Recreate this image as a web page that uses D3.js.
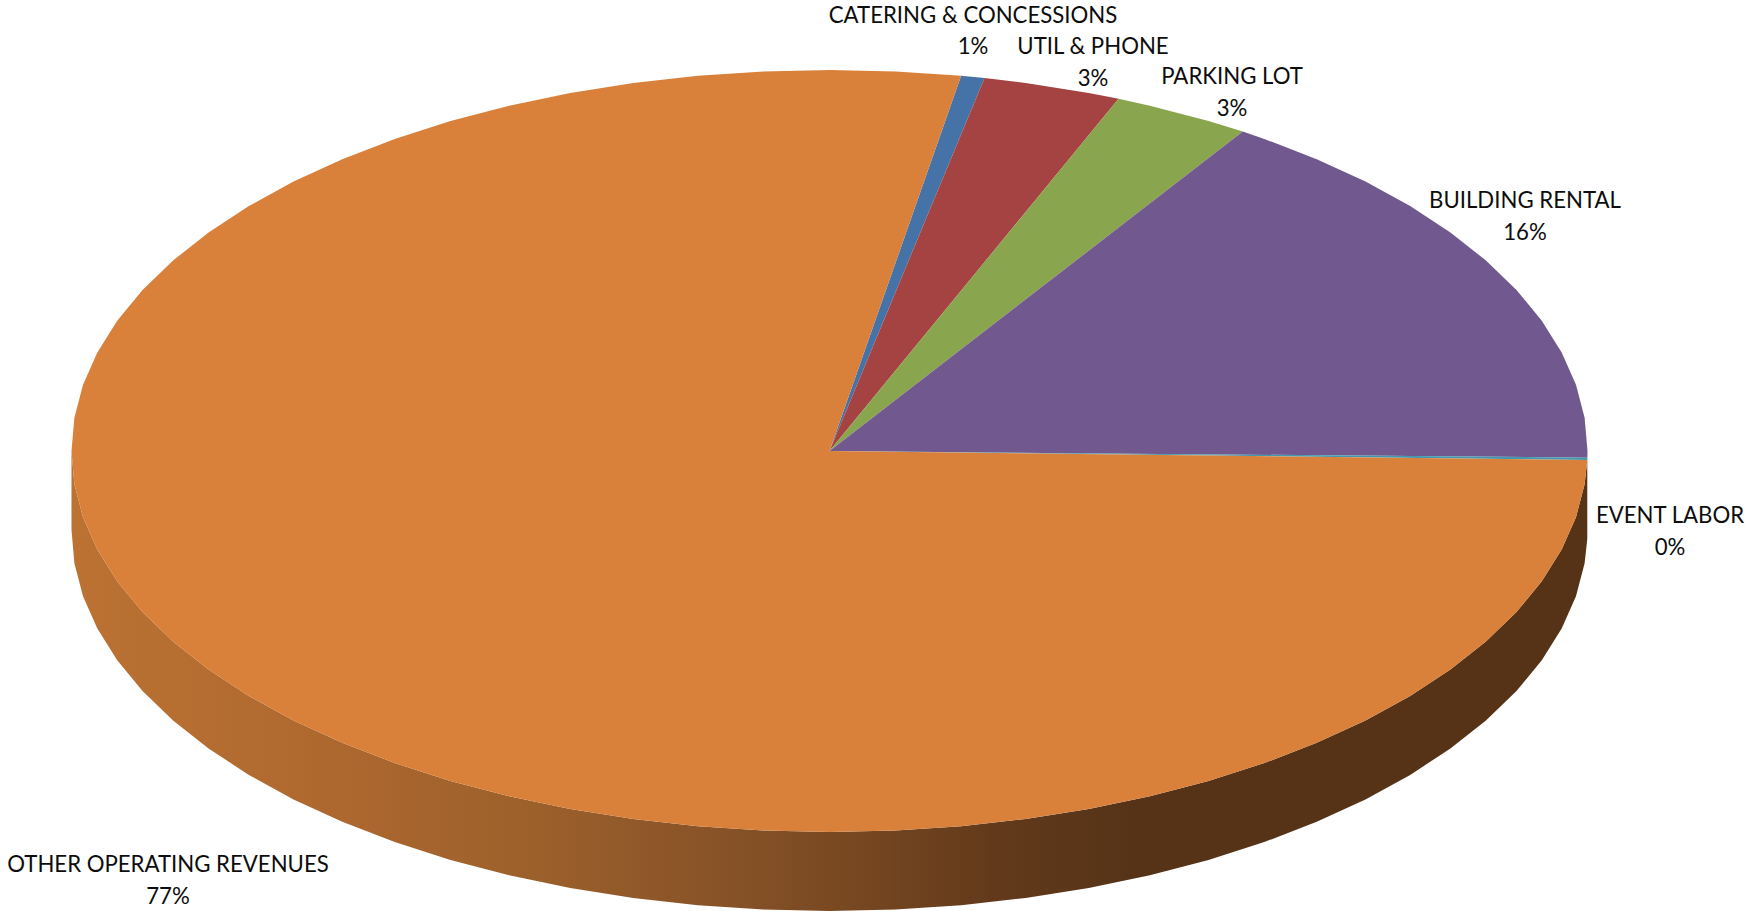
<!DOCTYPE html>
<html>
<head>
<meta charset="utf-8">
<style>
  html, body { margin: 0; padding: 0; background: #fff; }
  svg { display: block; }
  text { font-family: Lato, "Open Sans", sans-serif; font-size: 22.2px; fill: #0d0d0d; text-anchor: middle; }
</style>
<script src="https://cdn.jsdelivr.net/npm/d3@7/dist/d3.min.js"></script>
</head>
<body>
<script>
// Revenue sources, clockwise from the first slice after the large wedge.
const categories = ["CATERING & CONCESSIONS", "UTIL & PHONE", "PARKING LOT", "BUILDING RENTAL", "EVENT LABOR", "OTHER OPERATING REVENUES"];
const shares = [0.5, 2.95, 2.95, 16.1, 0.1, 77.4];
const sliceColors = ["#4572a7", "#a54343", "#89a54e", "#71588f", "#4198af", "#d9803b"];

// Page layout of the tilted disc and its labels.
const width = 1746, height = 911;
const cx = 829.5, cy = 451, rx = 758, ry = 381, depth = 79;
const firstAngle = 10 * Math.PI / 180;
const facet = 5 * Math.PI / 180;   // the rim is drawn as straight 5 degree segments
const labelCenters = [[973, 22.5], [1093, 54], [1232, 84], [1525, 208], [1670, 523], [168, 872]];
const lineGap = 31.5;

// Rim wall shading, left to right across the disc.
const wallStops = [[0, "#bb7233"], [0.15, "#b0692f"], [0.305, "#9c602b"], [0.415, "#8a5428"], [0.48, "#7e4c24"], [0.525, "#754620"], [0.61, "#623a1b"], [0.7, "#563317"], [1, "#563317"]];

const svg = d3.select("body").append("svg").attr("width", width).attr("height", height);

const arcs = d3.pie().sort(null).value(d => d)
  .startAngle(firstAngle).endAngle(firstAngle + 2 * Math.PI)(shares);

// Projected point on the rim for a pie angle (clockwise from 12 o'clock).
const rimX = a => cx + rx * Math.sin(a);
const rimY = a => cy - ry * Math.cos(a);

// Angles along a rim span: both ends plus each facet corner between them.
const rimAngles = (from, to) => {
  const first = Math.ceil(from / facet + 1e-6), last = Math.floor(to / facet - 1e-6);
  return [from, ...d3.range(first, last + 1).map(k => k * facet), to];
};

// The rim wall: only the front half of the largest slice is visible.
const large = arcs[arcs.length - 1];
const wallAngles = rimAngles(large.startAngle, 1.5 * Math.PI);

svg.append("defs").append("linearGradient")
  .attr("id", "wallShade").attr("gradientUnits", "userSpaceOnUse")
  .attr("x1", cx - rx).attr("x2", cx + rx).attr("y1", 0).attr("y2", 0)
  .selectAll("stop").data(wallStops).join("stop")
  .attr("offset", d => d[0]).attr("stop-color", d => d[1]);

const wallArea = d3.area()
  .x(a => rimX(a))
  .y0(a => rimY(a))
  .y1(a => rimY(a) + depth);
svg.append("path").attr("d", wallArea(wallAngles)).attr("fill", "url(#wallShade)");

// Top surface: each slice is a fan from the centre to its faceted rim span.
const sliceLine = d3.line();
const slicePath = d => sliceLine([[cx, cy], ...rimAngles(d.startAngle, d.endAngle).map(a => [rimX(a), rimY(a)])]) + "Z";
svg.append("g").selectAll("path").data(arcs).join("path")
  .attr("d", slicePath)
  .attr("fill", (d, i) => sliceColors[i]);

// Two-line labels: category name, then rounded share.
const labels = svg.append("g").selectAll("text").data(arcs).join("text")
  .attr("transform", (d, i) => `translate(${labelCenters[i][0]},${labelCenters[i][1]})`);
labels.append("tspan").attr("x", 0).attr("y", 0).text((d, i) => categories[i]);
labels.append("tspan").attr("x", 0).attr("y", lineGap).text(d => Math.round(d.value) + "%");
</script>
</body>
</html>
